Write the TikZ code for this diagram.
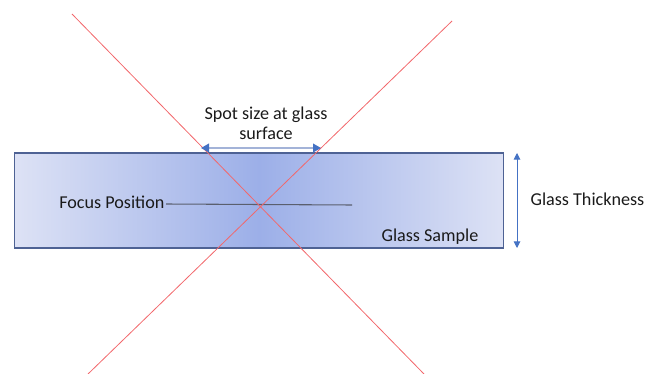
\documentclass[tikz,border=0pt]{standalone}
\usepackage{fontspec}
\setmainfont{Carlito}
\usetikzlibrary{positioning, arrows.meta, calc}
\definecolor{clrbeam}{HTML}{F2676B}
\definecolor{clrglass_core}{HTML}{9CAFE8}
\definecolor{clrglass_edge}{HTML}{DDE2F5}
\definecolor{clrborder}{HTML}{4E6294}
\definecolor{clrarrow}{HTML}{4472C4}
\definecolor{clrshaft}{HTML}{A3B3D8}
\definecolor{clrfocus}{HTML}{5A5F6E}
\definecolor{clrtext}{HTML}{1A1A1A}

\begin{document}
\begin{tikzpicture}[
    x=0.75pt, y=-0.75pt,
    every node/.style={font=\fontsize{13.6}{15}\selectfont, text=clrtext},
    glassbox/.style={draw=clrborder, line width=1.1pt, minimum width=366.75pt,
                     minimum height=71.25pt, inner sep=0pt,
                     left color=clrglass_edge, right color=clrglass_edge, middle color=clrglass_core},
    beam/.style={color=clrbeam, line width=0.6pt},
    spotarrow/.style={{Triangle[length=6pt,width=6.5pt,color=clrarrow]}-{Triangle[length=6pt,width=6.5pt,color=clrarrow]},
                      color=clrshaft, line width=1.1pt},
    thickarrow/.style={{Triangle[length=5pt,width=5pt]}-{Triangle[length=5pt,width=5pt]}, color=clrarrow, line width=0.7pt},
    focusline/.style={color=clrfocus, line width=0.8pt},
    txt/.style={inner sep=1pt},
]
\useasboundingbox (0,0) rectangle (656,374);
\node[glassbox] (glass) at (259,200.5) {};
% labels
\node[txt, align=center] (spot_lbl) at (266,123) {Spot size at glass\\surface};
\node[txt, anchor=east] (focus_lbl) at (166,202) {Focus Position};
\node[txt] (sample_lbl) at (430,237) {Glass Sample};
\node[txt, anchor=west] (thick_lbl) at (529,199) {Glass Thickness};
% focus marker
\coordinate (focus_end) at (352,205);
\draw[focusline] ([yshift=-1.5pt]focus_lbl.east) -- (focus_end);
% beams crossing at the focus
\coordinate (beam1_top) at (72,14);
\coordinate (beam1_bot) at (424,374);
\coordinate (beam2_top) at (452,21);
\coordinate (beam2_bot) at (88,374);
\draw[beam] (beam1_top) -- (beam1_bot);
\draw[beam] (beam2_top) -- (beam2_bot);
% dimension arrows
\coordinate (spot_l) at (201,148);
\coordinate (spot_r) at (321,148);
\draw[spotarrow] (spot_l) -- (spot_r);
\coordinate (thick_t) at (517,153);
\coordinate (thick_b) at (517,248);
\draw[thickarrow] (thick_t) -- (thick_b);
\end{tikzpicture}
\end{document}
